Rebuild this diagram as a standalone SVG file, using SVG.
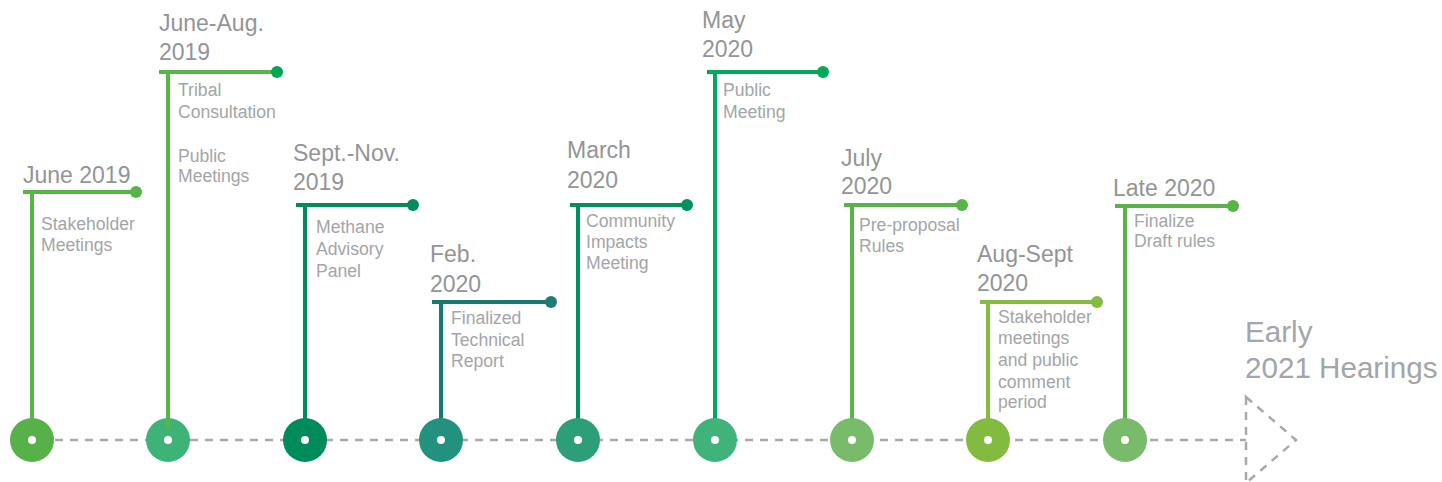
<svg xmlns="http://www.w3.org/2000/svg" width="1442" height="482" viewBox="0 0 1442 482">
<style>
.t{font-family:"Liberation Sans",Arial,sans-serif;font-size:23px;fill:#929497}
.d{font-family:"Liberation Sans",Arial,sans-serif;font-size:17.6px;fill:#a3a5a8}
.e{font-family:"Liberation Sans",Arial,sans-serif;font-size:29.6px;fill:#a3a5a8}
.s{stroke-width:4;fill:none}
.hole{fill:#ffffff}
.dash{stroke:#a7a9ac;stroke-width:2.5;fill:none;stroke-dasharray:8 7}
</style>
<rect width="1442" height="482" fill="#ffffff"/>
<g id="connectors">
<line class="dash" x1="40" y1="440" x2="1246" y2="440"/>
<path class="dash" d="M1246,397 L1296,440 L1246,483 Z" stroke-width="2"/>
</g>
<g id="n1">
<text class="t" x="23" y="183">June 2019</text>
<path class="s" stroke="#57b446" d="M23,192 H136 M32,192 V420"/>
<circle cx="136" cy="192" r="6" fill="#57b446"/>
<text class="d" x="41" y="230">Stakeholder</text>
<text class="d" x="41" y="251">Meetings</text>
<circle cx="32" cy="440" r="22" fill="#55b148"/><circle cx="32" cy="440" r="4" class="hole"/>
</g>
<g id="n2">
<text class="t" x="159" y="31">June-Aug.</text>
<text class="t" x="159" y="60">2019</text>
<circle cx="168" cy="440" r="22" fill="#3db378"/>
<path class="s" stroke="#57b446" d="M159,72 H277 M168,72 V429"/>
<circle cx="277" cy="72" r="6" fill="#00a651"/>
<circle cx="168" cy="440" r="4" class="hole"/>
<text class="d" x="178" y="96">Tribal</text>
<text class="d" x="178" y="118">Consultation</text>
<text class="d" x="178" y="162">Public</text>
<text class="d" x="178" y="182">Meetings</text>
</g>
<g id="n3">
<text class="t" x="293" y="161">Sept.-Nov.</text>
<text class="t" x="293" y="190">2019</text>
<path class="s" stroke="#008c5a" d="M296,205 H413 M305,205 V420"/>
<circle cx="413" cy="205" r="6" fill="#008c5a"/>
<text class="d" x="316" y="233">Methane</text>
<text class="d" x="316" y="255">Advisory</text>
<text class="d" x="316" y="277">Panel</text>
<circle cx="305" cy="440" r="22" fill="#008b5c"/><circle cx="305" cy="440" r="4" class="hole"/>
</g>
<g id="n4">
<text class="t" x="430" y="262">Feb.</text>
<text class="t" x="430" y="292">2020</text>
<path class="s" stroke="#157b70" d="M432,302 H551 M441,302 V420"/>
<circle cx="551" cy="302" r="6" fill="#1e7b78"/>
<text class="d" x="451" y="324">Finalized</text>
<text class="d" x="451" y="346">Technical</text>
<text class="d" x="451" y="367">Report</text>
<circle cx="441" cy="440" r="22" fill="#22927f"/><circle cx="441" cy="440" r="4" class="hole"/>
</g>
<g id="n5">
<text class="t" x="567" y="158">March</text>
<text class="t" x="567" y="188">2020</text>
<path class="s" stroke="#00905b" d="M570,205 H687 M578,205 V420"/>
<circle cx="687" cy="205" r="6" fill="#00905b"/>
<text class="d" x="586" y="227">Community</text>
<text class="d" x="586" y="248">Impacts</text>
<text class="d" x="586" y="269">Meeting</text>
<circle cx="578" cy="440" r="22" fill="#2c9e78"/><circle cx="578" cy="440" r="4" class="hole"/>
</g>
<g id="n6">
<text class="t" x="702" y="28">May</text>
<text class="t" x="702" y="57">2020</text>
<path class="s" stroke="#00a85a" d="M707,72 H823 M715,72 V420"/>
<circle cx="823" cy="72" r="6" fill="#00a85a"/>
<text class="d" x="723" y="96">Public</text>
<text class="d" x="723" y="118">Meeting</text>
<circle cx="715" cy="440" r="22" fill="#3fb37a"/><circle cx="715" cy="440" r="4" class="hole"/>
</g>
<g id="n7">
<text class="t" x="841" y="166">July</text>
<text class="t" x="841" y="194">2020</text>
<path class="s" stroke="#57b446" d="M844,205 H962 M852,205 V420"/>
<circle cx="962" cy="205" r="6" fill="#57b446"/>
<text class="d" x="859" y="231">Pre-proposal</text>
<text class="d" x="859" y="252">Rules</text>
<circle cx="852" cy="440" r="22" fill="#78bb6b"/><circle cx="852" cy="440" r="4" class="hole"/>
</g>
<g id="n8">
<text class="t" x="977" y="262">Aug-Sept</text>
<text class="t" x="977" y="291">2020</text>
<path class="s" stroke="#82bd41" d="M980,302 H1097 M988,302 V420"/>
<circle cx="1097" cy="302" r="6" fill="#82bd41"/>
<text class="d" x="998" y="323">Stakeholder</text>
<text class="d" x="998" y="344">meetings</text>
<text class="d" x="998" y="366">and public</text>
<text class="d" x="998" y="388">comment</text>
<text class="d" x="998" y="408">period</text>
<circle cx="988" cy="440" r="22" fill="#82bb3f"/><circle cx="988" cy="440" r="4" class="hole"/>
</g>
<g id="n9">
<text class="t" x="1113" y="196">Late 2020</text>
<path class="s" stroke="#57b446" d="M1115,206 H1233 M1125,206 V420"/>
<circle cx="1233" cy="206" r="6" fill="#57b446"/>
<text class="d" x="1134" y="227">Finalize</text>
<text class="d" x="1134" y="247">Draft rules</text>
<circle cx="1125" cy="440" r="22" fill="#78bb6b"/><circle cx="1125" cy="440" r="4" class="hole"/>
</g>
<g id="end">
<text class="e" x="1245" y="342">Early</text>
<text class="e" x="1245" y="378">2021 Hearings</text>
</g>
</svg>
